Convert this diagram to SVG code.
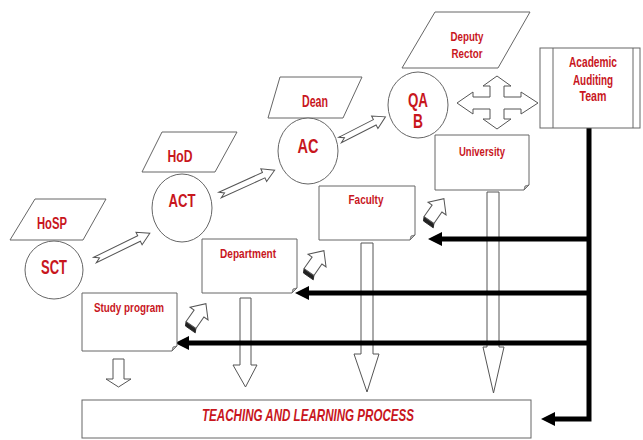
<svg xmlns="http://www.w3.org/2000/svg" width="643" height="440" viewBox="0 0 643 440">
<style>
.sh{fill:#fff;stroke:#666;stroke-width:1}
.lb{fill:#c8161d;font-family:"Liberation Sans Narrow","Liberation Sans",Arial,sans-serif;font-weight:bold;text-anchor:middle}
.thin{fill:#fff;stroke:#555;stroke-width:1;stroke-linejoin:miter}
.blk{fill:none;stroke:#000;stroke-width:5;marker-end:url(#ah)}
.fold{fill:#bbb;stroke:#666;stroke-width:0.8}
</style>
<defs>
<marker id="ah" markerUnits="userSpaceOnUse" markerWidth="14" markerHeight="14" refX="4" refY="7" orient="auto">
<path d="M0,0 L14,7 L0,14 Z" fill="#000"/>
</marker>
<g id="blk3d">
<path d="M-4,-4 L0,-6 L0,6 L-4,8 Z" fill="#222" stroke="#222" stroke-width="0.8"/>
<path d="M0,-6 H14 V-11 L26,0 L14,11 V6 H0 Z" fill="#fff" stroke="#555" stroke-width="1"/>
</g>
</defs>
<rect width="643" height="440" fill="#fff"/>

<g id="connectors">
<path class="thin" transform="translate(95,260) rotate(-26)" d="M0,-3 H49 V-7 L61,0 L49,7 V3 H0 L5,0 Z"/>
<path class="thin" transform="translate(220,195) rotate(-24.4)" d="M0,-3 H48 V-7 L60,0 L48,7 V3 H0 L5,0 Z"/>
<path class="thin" transform="translate(340,140) rotate(-27)" d="M0,-3 H39 V-7 L51,0 L39,7 V3 H0 L5,0 Z"/>
<polygon class="thin" points="497,76 511,86 504,86 504,97 521,97 521,92 538,103 521,114 521,109 504,109 504,119 511,119 497,129 483,119 490,119 490,109 473,109 473,114 457,103 473,92 473,97 490,97 490,86 483,86"/>
<use href="#blk3d" transform="translate(191,325) rotate(-55)"/>
<use href="#blk3d" transform="translate(309,272) rotate(-55)"/>
<use href="#blk3d" transform="translate(429,220) rotate(-55)"/>
<polygon class="thin" points="113,359 124,359 124,379 131,379 118.5,387 106,379 113,379"/>
<polygon class="thin" points="240,298 251,298 251,365 257,365 245.5,387 233,365 240,365"/>
<polygon class="thin" points="361,243 373,243 373,354 379,354 367,392 354,354 361,354"/>
<polygon class="thin" points="487,192 499,192 499,347 504,347 493.5,393 483,347 487,347"/>
<path class="blk" d="M589,128 V419 H551"/>
<path class="blk" d="M589,239 H438"/>
<path class="blk" d="M589,293 H305"/>
<path class="blk" d="M589,343 H185"/>
</g>

<g id="hosp">
<polygon class="sh" points="35,199 106,199 83,240 10,240"/>
<text class="lb" x="52" y="229" font-size="16" textLength="30" lengthAdjust="spacingAndGlyphs">HoSP</text>
</g>
<g id="sct">
<circle class="sh" cx="54" cy="270" r="29"/>
<text class="lb" x="54" y="274" font-size="20" textLength="26" lengthAdjust="spacingAndGlyphs">SCT</text>
</g>
<g id="hod">
<polygon class="sh" points="162,132 237,132 215,172 142,172"/>
<text class="lb" x="180" y="162" font-size="16" textLength="25" lengthAdjust="spacingAndGlyphs">HoD</text>
</g>
<g id="act">
<ellipse class="sh" cx="182" cy="208" rx="30" ry="34"/>
<text class="lb" x="182" y="207" font-size="19" textLength="27" lengthAdjust="spacingAndGlyphs">ACT</text>
</g>
<g id="dean">
<polygon class="sh" points="280,77 362,77 343,118 268,118"/>
<text class="lb" x="315" y="107" font-size="16" textLength="26" lengthAdjust="spacingAndGlyphs">Dean</text>
</g>
<g id="ac">
<ellipse class="sh" cx="308" cy="151" rx="30" ry="33"/>
<text class="lb" x="308" y="153" font-size="21" textLength="21" lengthAdjust="spacingAndGlyphs">AC</text>
</g>
<g id="deputy">
<polygon class="sh" points="435,12 530,12 498,68 402,68"/>
<text class="lb" x="467" y="41" font-size="13" textLength="33" lengthAdjust="spacingAndGlyphs">Deputy</text>
<text class="lb" x="467" y="58" font-size="13" textLength="31" lengthAdjust="spacingAndGlyphs">Rector</text>
</g>
<g id="qab">
<ellipse class="sh" cx="418" cy="105" rx="30" ry="33"/>
<text class="lb" x="418" y="107" font-size="20" textLength="20" lengthAdjust="spacingAndGlyphs">QA</text>
<text class="lb" x="418" y="128" font-size="20" textLength="10" lengthAdjust="spacingAndGlyphs">B</text>
</g>
<g id="aat">
<rect class="sh" x="540" y="48" width="100" height="80"/>
<line x1="553" y1="48" x2="553" y2="128" stroke="#666" stroke-width="1"/>
<line x1="633" y1="48" x2="633" y2="128" stroke="#666" stroke-width="1"/>
<text class="lb" x="593" y="67" font-size="14" textLength="48" lengthAdjust="spacingAndGlyphs">Academic</text>
<text class="lb" x="593" y="85" font-size="14" textLength="40" lengthAdjust="spacingAndGlyphs">Auditing</text>
<text class="lb" x="593" y="101" font-size="14" textLength="27" lengthAdjust="spacingAndGlyphs">Team</text>
</g>
<g id="university">
<path class="sh" d="M435,135 H529 V185 L524,190 H435 Z"/>
<path class="fold" d="M529,185 L525,186 L524,190 Z"/>
<text class="lb" x="482" y="156" font-size="13" textLength="46" lengthAdjust="spacingAndGlyphs">University</text>
</g>
<g id="faculty">
<path class="sh" d="M319,186 H415 V235 L410,240 H319 Z"/>
<path class="fold" d="M415,235 L411,236 L410,240 Z"/>
<text class="lb" x="366" y="204" font-size="13" textLength="35" lengthAdjust="spacingAndGlyphs">Faculty</text>
</g>
<g id="department">
<path class="sh" d="M202,239 H297 V288 L292,293 H202 Z"/>
<path class="fold" d="M297,288 L293,289 L292,293 Z"/>
<text class="lb" x="248" y="258" font-size="13" textLength="56" lengthAdjust="spacingAndGlyphs">Department</text>
</g>
<g id="study">
<path class="sh" d="M82,293 H177 V346 L172,351 H82 Z"/>
<path class="fold" d="M177,346 L173,347 L172,351 Z"/>
<text class="lb" x="129" y="312" font-size="13" textLength="70" lengthAdjust="spacingAndGlyphs">Study program</text>
</g>
<g id="teaching">
<rect class="sh" x="82" y="400" width="449" height="38"/>
<text class="lb" x="308" y="421" font-size="17" font-style="italic" textLength="212" lengthAdjust="spacingAndGlyphs">TEACHING AND LEARNING PROCESS</text>
</g>
</svg>
